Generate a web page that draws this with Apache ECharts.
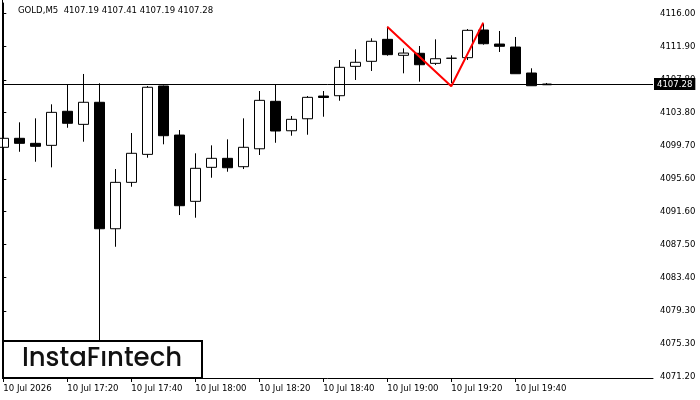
<!DOCTYPE html>
<html>
<head>
    <meta charset="UTF-8">
    <title>GOLD M5</title>
    <script src="https://cdn.jsdelivr.net/npm/echarts@6/dist/echarts.min.js"></script>
    <style>
        html, body { margin: 0; padding: 0; background: #fff; }
        #chart { width: 700px; height: 400px; }
    </style>
</head>
<body>
<div id="chart"></div>
<script>
// candles, 5 minutes each, 17:00 .. 19:50
var opens  = [4099.48, 4100.59, 4099.97, 4099.72, 4103.92, 4102.31, 4105.03, 4089.44, 4095.16, 4098.61,
              4107.04, 4100.99, 4092.82, 4097.01, 4098.12, 4097.09, 4099.30, 4105.15, 4101.52, 4103.00,
              4105.80, 4105.84, 4109.46, 4110.08, 4112.79, 4110.82, 4111.07, 4109.83, 4110.45, 4110.53,
              4113.94, 4112.21, 4111.84, 4108.64, 4107.19];
var closes = [4100.59, 4099.97, 4099.60, 4103.79, 4102.44, 4105.03, 4089.44, 4095.16, 4098.74, 4106.88,
              4100.91, 4092.28, 4096.89, 4098.12, 4096.96, 4099.48, 4105.27, 4101.49, 4102.93, 4105.64,
              4105.62, 4109.34, 4109.96, 4112.55, 4110.90, 4111.10, 4109.66, 4110.40, 4110.47, 4113.90,
              4112.25, 4111.93, 4108.55, 4107.07, 4107.28];
var lows   = [4097.09, 4098.93, 4097.70, 4097.01, 4101.89, 4100.17, 4075.40, 4087.22, 4094.62, 4098.20,
              4099.85, 4091.13, 4090.80, 4095.73, 4096.47, 4096.80, 4098.53, 4100.04, 4100.91, 4101.03,
              4103.25, 4105.22, 4107.78, 4108.89, 4110.77, 4108.60, 4107.57, 4109.63, 4107.40, 4110.24,
              4112.13, 4111.23, 4108.55, 4107.07, 4107.19];
var highs  = [4101.40, 4102.56, 4103.05, 4104.78, 4107.25, 4108.52, 4107.37, 4096.80, 4101.24, 4107.04,
              4107.10, 4101.61, 4098.74, 4099.72, 4100.46, 4103.05, 4106.42, 4107.25, 4103.34, 4105.80,
              4106.42, 4110.24, 4111.56, 4112.92, 4114.35, 4111.68, 4111.97, 4112.79, 4110.82, 4114.06,
              4114.68, 4113.82, 4113.08, 4109.22, 4107.41];

var timeTicks  = [0, 4, 8, 12, 16, 20, 24, 28, 32];
var timeLabels = ['10 Jul 2026', '10 Jul 17:20', '10 Jul 17:40', '10 Jul 18:00', '10 Jul 18:20',
                  '10 Jul 18:40', '10 Jul 19:00', '10 Jul 19:20', '10 Jul 19:40'];
var priceTicks = [4071.20, 4075.30, 4079.30, 4083.40, 4087.50, 4091.60, 4095.60, 4099.70, 4103.80,
                  4107.80, 4111.90, 4116.00];

// double top pattern drawn in red
var patternX = [24, 28, 30];
var patternY = [4114.35, 4107.00, 4114.85];

var lastPrice = 4107.28;
var header = 'GOLD,M5  4107.19 4107.41 4107.19 4107.28';

var candles = opens.map(function (o, i) {
    return [i, o, closes[i], lows[i], highs[i]];
});
var pattern = patternX.map(function (x, i) { return [x, patternY[i]]; });

var font = "'DejaVu Sans Condensed', 'Liberation Sans', sans-serif";

var chart = echarts.init(document.getElementById('chart'), null, {renderer: 'canvas'});
chart.setOption({
    animation: false,
    backgroundColor: '#fff',
    grid: {left: 2.5, right: 47, top: 3, bottom: 22},
    xAxis: {
        type: 'value',
        min: -0.05,
        max: 40.61,
        axisLine: {show: true, onZero: false, lineStyle: {color: '#000', width: 1}},
        axisTick: {show: true, length: 4, customValues: timeTicks, lineStyle: {color: '#000'}},
        axisLabel: {
            customValues: timeTicks,
            align: 'left',
            margin: 6,
            color: '#000',
            fontSize: 9.5,
            fontFamily: font,
            formatter: function (v) { return timeLabels[timeTicks.indexOf(Math.round(v))] || ''; }
        },
        splitLine: {show: false}
    },
    yAxis: {
        type: 'value',
        position: 'right',
        min: 4071.04,
        max: 4117.27,
        axisLine: {show: true, lineStyle: {color: '#000', width: 1}},
        axisTick: {show: true, length: 3, customValues: priceTicks, lineStyle: {color: '#000'}},
        axisLabel: {
            customValues: priceTicks,
            margin: 7,
            color: '#000',
            fontSize: 9.5,
            fontFamily: font,
            formatter: function (v) { return v.toFixed(2); }
        },
        splitLine: {show: false}
    },
    series: [
        {
            type: 'candlestick',
            data: candles,
            encode: {x: 0, y: [1, 2, 3, 4]},
            barWidth: 10,
            clip: true,
            itemStyle: {
                color: '#fff',
                color0: '#000',
                borderColor: '#000',
                borderColor0: '#000',
                borderWidth: 1
            }
        },
        {
            type: 'line',
            data: pattern,
            symbol: 'none',
            lineStyle: {color: '#ff0000', width: 2},
            z: 5,
            markLine: {
                silent: true,
                symbol: ['none', 'none'],
                lineStyle: {color: '#000', width: 1, type: 'solid'},
                label: {
                    position: 'end',
                    distance: 1,
                    formatter: lastPrice.toFixed(2),
                    color: '#fff',
                    backgroundColor: '#000',
                    padding: [1, 3, 1, 3],
                    fontSize: 9.5,
                    fontFamily: font
                },
                data: [{yAxis: lastPrice}]
            }
        }
    ],
    graphic: [
        {
            type: 'line',
            shape: {x1: 2.5, y1: 0, x2: 2.5, y2: 378},
            style: {stroke: '#000', lineWidth: 1},
            z: 50
        },
        {
            type: 'text',
            left: 18,
            top: 6,
            style: {text: header, fill: '#000', font: '9.5px ' + font}
        },
        {
            type: 'rect',
            shape: {x: 3, y: 341, width: 199, height: 37},
            style: {fill: '#fff', stroke: '#000', lineWidth: 2},
            z: 100
        },
        {
            type: 'text',
            x: 102,
            y: 359,
            style: {
                text: 'InstaFıntech',
                fill: '#111',
                font: '500 26px Poppins, Lato, "Noto Sans", sans-serif',
                align: 'center',
                verticalAlign: 'middle'
            },
            z: 101
        }
    ]
});
</script>
</body>
</html>
